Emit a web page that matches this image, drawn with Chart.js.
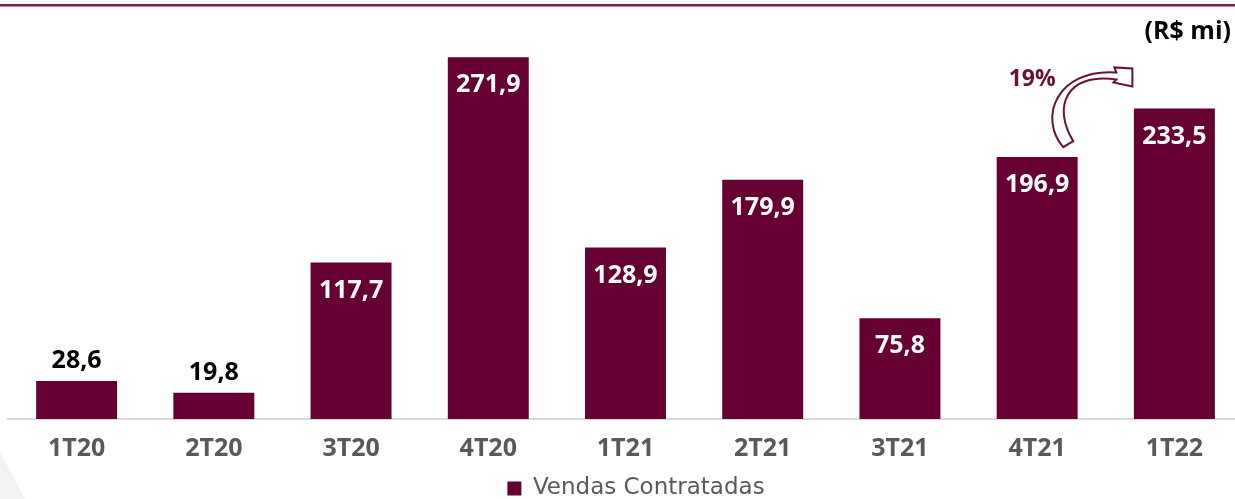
<!DOCTYPE html>
<html>
<head>
<meta charset="utf-8">
<script src="https://cdn.jsdelivr.net/npm/chart.js@4.4.0/dist/chart.umd.min.js"></script>
<style>
  html, body { margin:0; padding:0; background:#fff; overflow:hidden; width:1235px; height:499px; }
  #linha { position:absolute; left:0; top:4px; width:1235px; height:2px; background:#7b1e4c; border-bottom:1px solid #c58aa5; z-index:2; }
  #canto { position:absolute; left:0; top:0; width:40px; height:499px; background:#f2f2f2; clip-path:polygon(0 452px, 25px 499px, 0 499px); z-index:0; }
  #grafico { position:absolute; left:0; top:0; z-index:1; }
</style>
</head>
<body>
<div id="canto"></div>
<div id="linha"></div>
<canvas id="grafico" width="1264" height="499"></canvas>
<script>
// Dados
const categorias = ['1T20','2T20','3T20','4T20','1T21','2T21','3T21','4T21','1T22'];
const vendas = [28.6, 19.8, 117.7, 271.9, 128.9, 179.9, 75.8, 196.9, 233.5];
const nomeSerie = 'Vendas Contratadas';
const unidade = '(R$ mi)';
const variacao = '19%';

const corBarra = '#660033';
const corTexto = '#595959';
const fonteNum = 'Open Sans';

function fmt(v){ return v.toFixed(1).replace('.', ','); }

// rótulos das barras + unidade + seta de variação
const rotulos = {
  id:'rotulos',
  afterDatasetsDraw(chart){
    const ctx = chart.ctx;
    const meta = chart.getDatasetMeta(0);
    ctx.save();
    ctx.font = 'bold 25px "' + fonteNum + '"';
    ctx.textAlign = 'center';
    ctx.textBaseline = 'middle';
    meta.data.forEach((bar, i)=>{
      const v = vendas[i];
      if(v < 50){ ctx.fillStyle = '#000'; ctx.fillText(fmt(v), bar.x, bar.y - 20); }
      else { ctx.fillStyle = '#fff'; ctx.fillText(fmt(v), bar.x, bar.y + 28); }
    });

    // unidade
    ctx.fillStyle = '#000';
    ctx.textAlign = 'right';
    ctx.font = 'bold 25px "' + fonteNum + '"';
    ctx.fillText(unidade, 1231, 32);

    // seta entre 4T21 e 1T22
    const a = meta.data[7], b = meta.data[8];
    const ox = a.x + 31, oy = a.y - 14;   // cauda da seta
    const hx = b.x - 42, hy = b.y - 22;   // ponta da seta
    ctx.fillStyle = '#6b1036';
    ctx.textAlign = 'center';
    ctx.font = 'bold 23px "' + fonteNum + '"';
    ctx.fillText(variacao, ox - 36, hy - 7);

    ctx.beginPath();
    ctx.moveTo(ox - 5, oy + 4);
    ctx.bezierCurveTo(ox - 30, oy - 25, ox - 12, hy - 18, hx - 16, hy - 14);
    ctx.lineTo(hx - 18, hy - 19);
    ctx.lineTo(hx, hy - 18);
    ctx.lineTo(hx, hy);
    ctx.lineTo(hx - 19, hy - 4);
    ctx.lineTo(hx - 16, hy - 7);
    ctx.bezierCurveTo(ox - 2, hy - 14, ox - 16, hy + 20, ox + 5, oy - 2);
    ctx.closePath();
    ctx.fillStyle = '#fff';
    ctx.fill();
    ctx.strokeStyle = '#6b1036';
    ctx.lineWidth = 2;
    ctx.stroke();
    ctx.restore();
  }
};

const grafico = new Chart(document.getElementById('grafico'), {
  type:'bar',
  data:{
    labels: categorias,
    datasets:[{ label: nomeSerie, data: vendas, backgroundColor: corBarra, borderWidth:0,
      barPercentage:0.59, categoryPercentage:1 }]
  },
  options:{
    responsive:false, animation:false, devicePixelRatio:1,
    layout:{ padding:{ top:20, left:8, right:0, bottom:-11 } },
    plugins:{
      tooltip:{ enabled:false },
      legend:{ position:'bottom',
        labels:{ boxWidth:14, boxHeight:14, color:corTexto, padding:6,
          font:{ family:'DejaVu Sans', size:23 } } }
    },
    scales:{
      x:{ grid:{ display:false }, border:{ color:'#d9d9d9', width:2 },
        ticks:{ color:corTexto, padding:7, font:{ family:fonteNum, size:25, weight:'bold' } } },
      y:{ position:'right', min:0, max:300, grid:{ display:false }, border:{ display:false },
        ticks:{ display:false }, afterFit(s){ s.width = 21; } }
    }
  },
  plugins:[rotulos]
});
</script>
</body>
</html>
